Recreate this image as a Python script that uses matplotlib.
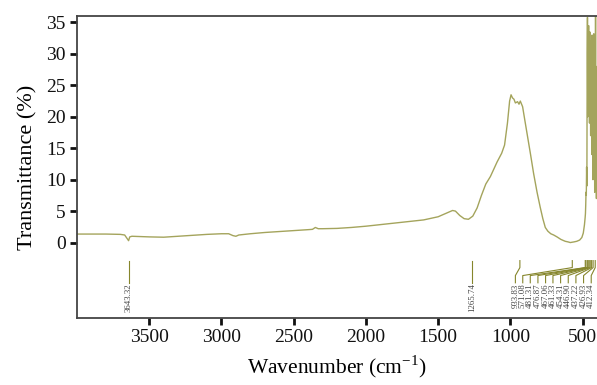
# FTIR spectrum with peak labels
import matplotlib
matplotlib.use('Agg')
import matplotlib.pyplot as plt

plt.rcParams['font.family'] = ['Liberation Serif', 'DejaVu Serif']
plt.rcParams['mathtext.fontset'] = 'custom'
plt.rcParams['mathtext.rm'] = 'Liberation Serif'

# spectrum
wavenumber = [4000, 3900, 3800, 3700, 3670, 3652, 3643, 3635, 3620, 3500, 3400, 3300,
              3200, 3100, 3000, 2950, 2920, 2900, 2880, 2800, 2700, 2600, 2500, 2400,
              2370, 2350, 2330, 2300, 2200, 2100, 2000, 1900, 1800, 1700, 1600, 1500,
              1450, 1400, 1380, 1350, 1320, 1290, 1260, 1230, 1200, 1170, 1138, 1092,
              1060, 1040, 1020, 1005, 995, 985, 975, 965, 950, 940, 931, 915, 900, 884,
              860, 839, 815, 793, 775, 758, 740, 720, 700, 677, 650, 620, 600, 585, 560,
              540, 520, 505, 495, 487, 482,
              480, 478, 476, 474, 472, 470, 468, 466, 464, 462, 460, 458, 456, 454,
              452, 450, 448, 446, 444, 442, 440, 438, 436, 434, 432, 430, 428, 426,
              424, 422, 420, 418, 416, 414, 412, 410, 408, 406, 404, 402, 400]
transmittance = [1.35, 1.35, 1.35, 1.3, 1.2, 0.6, 0.3, 0.9, 1.0, 0.9, 0.85, 1.0,
                 1.15, 1.3, 1.4, 1.4, 1.1, 1.0, 1.2, 1.4, 1.6, 1.75, 1.9, 2.05,
                 2.1, 2.4, 2.2, 2.2, 2.25, 2.4, 2.6, 2.85, 3.1, 3.35, 3.6, 4.1,
                 4.6, 5.1, 5.0, 4.3, 3.8, 3.7, 4.2, 5.5, 7.5, 9.3, 10.5, 12.8,
                 14.2, 15.5, 19.0, 22.5, 23.5, 23.0, 22.8, 22.2, 22.4, 22.0, 22.5, 21.6, 19.5, 17.3,
                 14.0, 11.0, 8.0, 5.6, 3.8, 2.4, 1.8, 1.4, 1.2, 0.9, 0.5, 0.2, 0.1, 0.0, 0.1,
                 0.2, 0.4, 0.8, 1.5, 2.8, 4.0,
                 4.6, 6.0, 8.0, 7.5, 12.0, 9.0, 30.0, 35.8, 20.0, 33.0, 22.0, 34.5, 21.0, 31.0,
                 19.0, 33.5, 23.0, 30.0, 17.0, 32.0, 21.0, 28.0, 14.0, 33.0, 24.0, 31.0, 10.0, 29.0,
                 18.0, 33.2, 12.0, 26.0, 8.0, 30.0, 15.0, 36.0, 11.0, 28.0, 7.0, 24.0, 16.0]

# peak labels and where their text sits
peaks = [3643.32, 1265.74, 933.83, 571.08, 481.31, 476.87, 467.06, 461.33,
         454.31, 446.90, 437.22, 426.93, 412.34]
label_pos = [3643.32, 1265.74, 965, 914, 862, 809, 756, 705, 652, 599, 546, 493, 440]

curve_color = '#a4a45c'
mark_color = '#86862c'

fig = plt.figure(figsize=(5.97, 3.85), dpi=100)
ax = fig.add_axes([0.129, 0.174, 0.871, 0.784])

ax.plot(wavenumber, transmittance, color=curve_color, lw=1.0)

for p, lx in zip(peaks, label_pos):
    if p == lx:
        ax.plot([p, p], [-2.87, -6.4], color=mark_color, lw=0.8)
    else:
        ax.plot([p, p, lx, lx], [-2.87, -3.98, -5.25, -6.4], color=mark_color, lw=0.8)
    ax.text(lx, -6.5, '%.2f' % p, rotation=90, ha='center', va='top',
            fontsize=6.4, color='#444444')

ax.set_xlim(4000, 400)
ax.set_ylim(-12, 36)
ax.set_xticks([3500, 3000, 2500, 2000, 1500, 1000, 500])
ax.set_yticks([0, 5, 10, 15, 20, 25, 30, 35])
ax.tick_params(direction='out', length=5, width=2, labelsize=14, colors='#111111', pad=3)
for s in ['left', 'bottom', 'top']:
    ax.spines[s].set_linewidth(1.3)
    ax.spines[s].set_color('#444444')
ax.spines['right'].set_visible(False)

ax.set_ylabel('Transmittance (%)', fontsize=16, labelpad=6)
ax.set_xlabel('Wavenumber (cm$^{\\mathregular{-1}}$)', fontsize=15.5, labelpad=5)

plt.savefig('out.png', dpi=100)
